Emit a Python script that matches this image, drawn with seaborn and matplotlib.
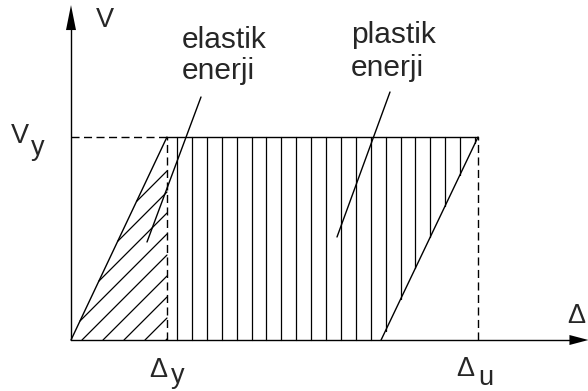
import numpy as np
import pandas as pd
import matplotlib
matplotlib.use("Agg")
import matplotlib.pyplot as plt
import seaborn as sns

# ---- diagram data (units: displacement in Δy, force in Vy) ----
delta_y = 1.0      # yield displacement
delta_u = 4.24     # ultimate displacement
delta_r = 3.23     # residual displacement after unloading
V_y = 1.0          # yield force
axis_x_end = 5.39
axis_y_end = 1.65

label_texts = {"elastic": ["elastik", "enerji"], "plastic": ["plastik", "enerji"]}

sns.set_theme(style="white")
plt.rcParams["font.family"] = ["Liberation Sans", "DejaVu Sans"]

W, H = 588, 391
ox, oy = 71, 340            # origin in pixels
sx, sy = 96.0, 203.0        # pixels per unit

def X(px):
    return (px - ox) / sx

def Y(py):
    return (oy - py) / sy

fig = plt.figure(figsize=(W / 100, H / 100), dpi=100)
ax = fig.add_axes([0, 0, 1, 1])
ax.set_xlim(X(0), X(W))
ax.set_ylim(Y(H), Y(0))
ax.axis("off")

lw = 1.0
dash = (0, (5.8, 3.2))

# ---- main envelope (solid) ----
solid = pd.DataFrame({
    "d": [0, delta_y, delta_y, delta_u, delta_r, delta_u],
    "V": [0, V_y, V_y, V_y, 0, V_y],
    "seg": ["a", "a", "b", "b", "c", "c"],
})
sns.lineplot(data=solid, x="d", y="V", units="seg", estimator=None, sort=False,
             color="black", lw=lw, ax=ax, legend=False)

# ---- dashed guides ----
dashed = pd.DataFrame({
    "d": [0, delta_y, delta_y, delta_y, delta_u, delta_u],
    "V": [V_y, V_y, 0, V_y, 0, V_y],
    "seg": ["a", "a", "b", "b", "c", "c"],
})
for _, g in dashed.groupby("seg"):
    ax.plot(g["d"], g["V"], color="black", lw=lw, linestyle=dash)

# ---- axes with arrows ----
ax.plot([0, 0], [0, axis_y_end - 0.08], color="black", lw=lw)
ax.plot([0, axis_x_end - 0.15], [0, 0], color="black", lw=lw)
hw_x = 5 / sx
hl_y = 25 / sy
ax.fill([-hw_x, hw_x, 0], [axis_y_end - hl_y, axis_y_end - hl_y, axis_y_end],
        color="black", lw=0)
hl_x = 19 / sx
hw_y = 5 / sy
ax.fill([axis_x_end - hl_x, axis_x_end - hl_x, axis_x_end], [-hw_y, hw_y, 0],
        color="black", lw=0)

# ---- vertical hatch (plastic energy) ----
v_step = 14.9 / sx
v_start = delta_y + 10 / sx
hx = np.arange(v_start, delta_u, v_step)
lower = np.clip((hx - delta_r) / (delta_u - delta_r) * V_y, 0, V_y)
for x, lo in zip(hx, lower):
    ax.plot([x, x], [lo, V_y], color="black", lw=0.9)

# ---- diagonal hatch (elastic energy), 45 deg on screen ----
m = sx / sy
s = V_y / delta_y
d_step = 21 / sx
d_first = 11 / sx
for k in range(-4, 5):
    x0 = d_first + k * d_step
    if x0 >= 0:
        xs, ys = x0, 0.0
    else:
        xs = -m * x0 / (s - m)
        ys = s * xs
    xe, ye = delta_y, m * (delta_y - x0)
    if ye <= V_y:
        ax.plot([xs, xe], [ys, ye], color="black", lw=0.9)

# ---- leader lines ----
ax.plot([X(201), X(147)], [Y(97), Y(242)], color="black", lw=lw)
ax.plot([X(390), X(337)], [Y(92), Y(237)], color="black", lw=lw)

# ---- texts ----
fs = 21.5
ax.text(X(182), Y(48), label_texts["elastic"][0], fontsize=fs, ha="left", va="baseline")
ax.text(X(182), Y(79), label_texts["elastic"][1], fontsize=fs, ha="left", va="baseline")
ax.text(X(351), Y(43), label_texts["plastic"][0], fontsize=fs, ha="left", va="baseline")
ax.text(X(351), Y(76), label_texts["plastic"][1], fontsize=fs, ha="left", va="baseline")

lf = 19.5
ax.text(X(96), Y(27), "V", fontsize=lf, ha="left", va="baseline")
ax.text(X(11), Y(143), "V", fontsize=lf, ha="left", va="baseline")
ax.text(X(31), Y(155), "y", fontsize=lf, ha="left", va="baseline")
ax.text(X(149), Y(377), "Δ", fontsize=lf, ha="left", va="baseline")
ax.text(X(171), Y(383), "y", fontsize=lf, ha="left", va="baseline")
ax.text(X(456), Y(376), "Δ", fontsize=lf, ha="left", va="baseline")
ax.text(X(478), Y(385), "u", fontsize=lf, ha="left", va="baseline")
ax.text(X(567), Y(323), "Δ", fontsize=lf, ha="left", va="baseline")

fig.savefig("out.png", dpi=100, facecolor="white")
